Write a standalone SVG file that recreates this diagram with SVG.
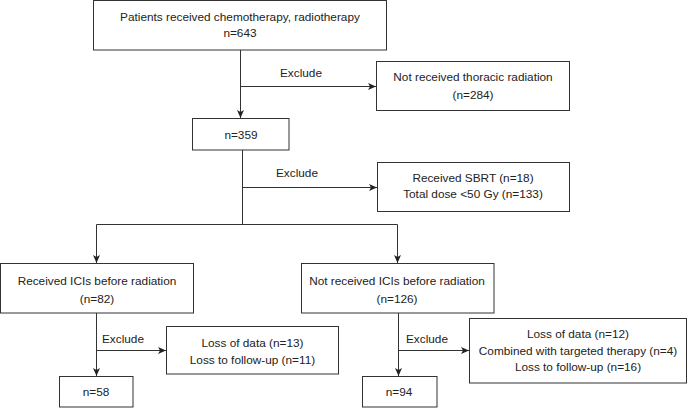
<svg xmlns="http://www.w3.org/2000/svg" width="689" height="408" viewBox="0 0 689 408">
<defs>
<style>
.box{fill:#fff;stroke:#333;stroke-width:1}
.t{font-family:"Liberation Sans",Arial,sans-serif;font-size:11.8px;fill:#222;text-anchor:middle;dominant-baseline:central}
.l{font-family:"Liberation Sans",Arial,sans-serif;font-size:11.8px;fill:#222;dominant-baseline:central}
.c{fill:none;stroke:#333;stroke-width:1}
</style>
<marker id="arr" viewBox="0 0 8 7" refX="8" refY="3.5" markerWidth="8" markerHeight="7" markerUnits="userSpaceOnUse" orient="auto">
<path d="M0,0 L8,3.5 L0,7 L2,3.5 z" fill="#222"/>
</marker>
</defs>
<rect width="689" height="408" fill="#fff"/>
<g id="connectors">
<path class="c" d="M240.5,50 V118" marker-end="url(#arr)"/>
<path class="c" d="M240.5,86.5 H376" marker-end="url(#arr)"/>
<path class="c" d="M242.5,150 V224.5"/>
<path class="c" d="M242.5,187.5 H377" marker-end="url(#arr)"/>
<path class="c" d="M96.5,224.5 H397.5"/>
<path class="c" d="M96.5,224.5 V263" marker-end="url(#arr)"/>
<path class="c" d="M397.5,224.5 V263" marker-end="url(#arr)"/>
<path class="c" d="M96.5,313 V376" marker-end="url(#arr)"/>
<path class="c" d="M96.5,350.5 H166" marker-end="url(#arr)"/>
<path class="c" d="M398.5,313 V376" marker-end="url(#arr)"/>
<path class="c" d="M398.5,350.5 H469" marker-end="url(#arr)"/>
<text class="l" x="280" y="73">Exclude</text>
<text class="l" x="276" y="173">Exclude</text>
<text class="l" x="102" y="339">Exclude</text>
<text class="l" x="406" y="339">Exclude</text>
</g>
<g id="n643">
<rect class="box" x="93.5" y="0.5" width="293" height="49.5"/>
<text class="t" x="240" y="17">Patients received chemotherapy, radiotherapy</text>
<text class="t" x="240" y="33">n=643</text>
</g>
<g id="excl1">
<rect class="box" x="376.5" y="61.5" width="193" height="49"/>
<text class="t" x="473" y="77">Not received thoracic radiation</text>
<text class="t" x="473" y="95">(n=284)</text>
</g>
<g id="n359">
<rect class="box" x="192.5" y="118.5" width="96.5" height="31.5"/>
<text class="t" x="241" y="135">n=359</text>
</g>
<g id="excl2">
<rect class="box" x="377.5" y="162.5" width="192" height="49"/>
<text class="t" x="473" y="178">Received SBRT (n=18)</text>
<text class="t" x="473" y="194">Total dose &lt;50 Gy (n=133)</text>
</g>
<g id="ici">
<rect class="box" x="0.5" y="263.5" width="193" height="49.5"/>
<text class="t" x="97" y="281">Received ICIs before radiation</text>
<text class="t" x="97" y="299">(n=82)</text>
</g>
<g id="noici">
<rect class="box" x="301.5" y="263.5" width="192.5" height="49.5"/>
<text class="t" x="397" y="281">Not received ICIs before radiation</text>
<text class="t" x="397" y="299">(n=126)</text>
</g>
<g id="excl3">
<rect class="box" x="166.5" y="326.5" width="172" height="47.5"/>
<text class="t" x="252.5" y="343">Loss of data (n=13)</text>
<text class="t" x="252.5" y="360">Loss to follow-up (n=11)</text>
</g>
<g id="excl4">
<rect class="box" x="469.5" y="318.5" width="217" height="64.5"/>
<text class="t" x="578" y="334">Loss of data (n=12)</text>
<text class="t" x="578" y="351">Combined with targeted therapy (n=4)</text>
<text class="t" x="578" y="367">Loss to follow-up (n=16)</text>
</g>
<g id="n58">
<rect class="box" x="59.5" y="376.5" width="73.5" height="30.5"/>
<text class="t" x="96" y="392">n=58</text>
</g>
<g id="n94">
<rect class="box" x="362.5" y="376.5" width="74.5" height="30.5"/>
<text class="t" x="399" y="392">n=94</text>
</g>
</svg>
